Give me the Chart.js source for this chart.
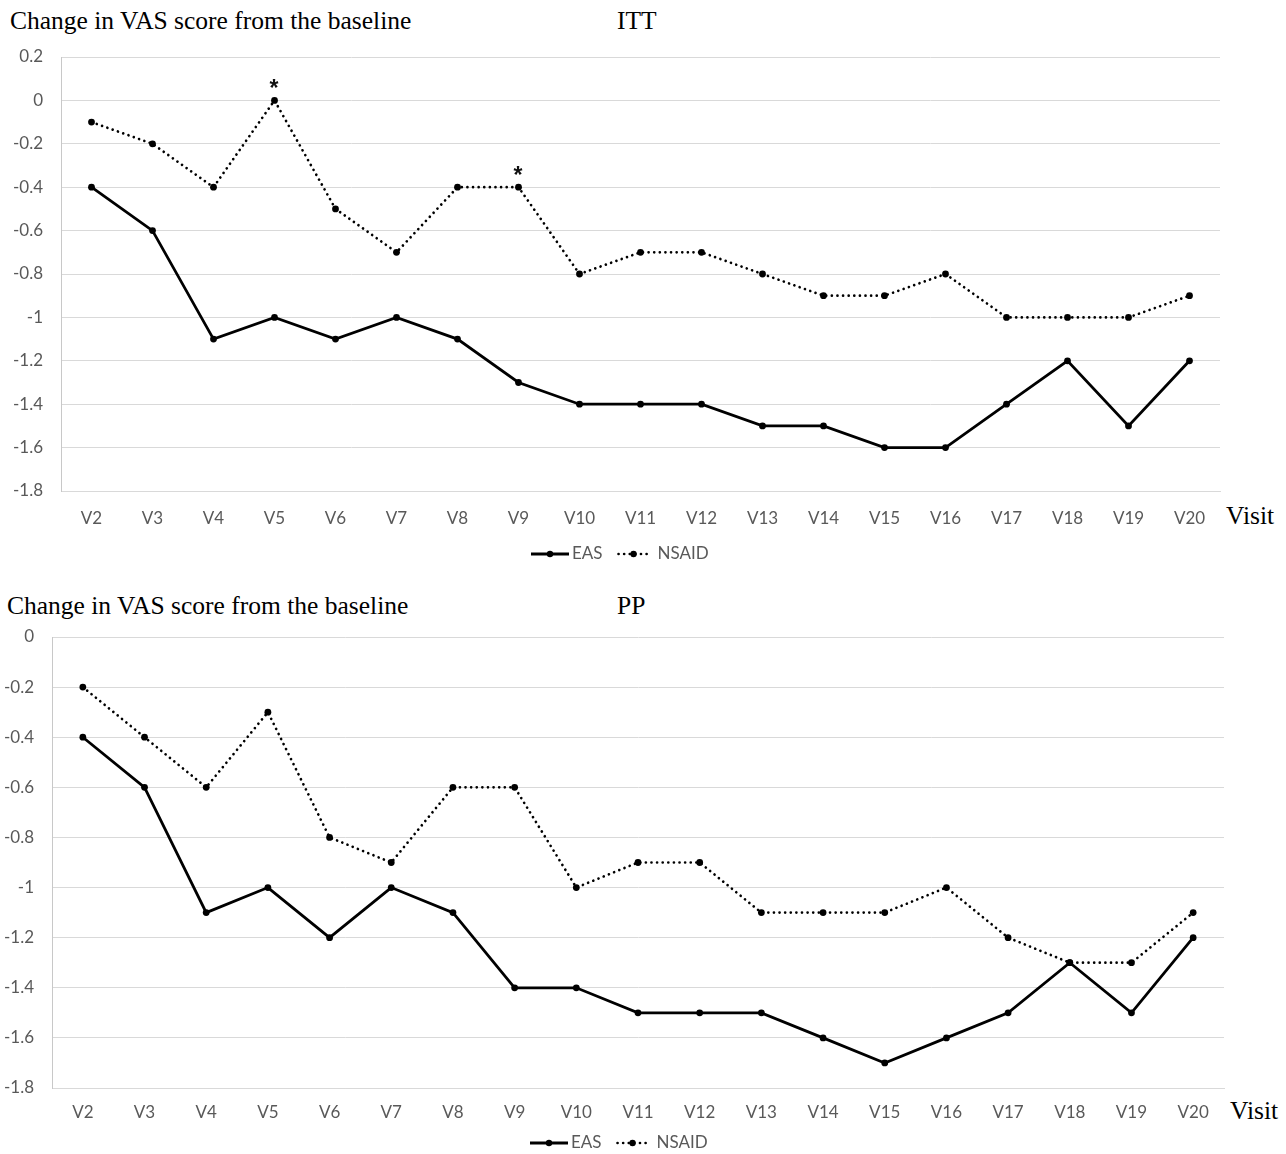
<!DOCTYPE html>
<html>
<head>
<meta charset="utf-8">
<script src="https://cdn.jsdelivr.net/npm/chart.js@4/dist/chart.umd.min.js"></script>
<style>
  body { margin: 0; background: #fff; width: 1286px; height: 1154px; position: relative; overflow: hidden; }
  .t { position: absolute; font-family: "Liberation Serif", "Times New Roman", serif; font-size: 25.5px; color: #000; white-space: nowrap; line-height: 1; }
  canvas { position: absolute; left: 0; }
</style>
</head>
<body>
<div class="t" style="left:10px;top:8px">Change in VAS score from the baseline</div>
<div class="t" style="left:617px;top:8px">ITT</div>
<div class="t" style="left:1226px;top:503px">Visit</div>
<div class="t" style="left:7px;top:593px">Change in VAS score from the baseline</div>
<div class="t" style="left:617px;top:593px">PP</div>
<div class="t" style="left:1230px;top:1098px">Visit</div>

<div style="position:absolute;left:0;top:0;width:1286px;height:575px"><canvas id="itt"></canvas></div>
<div style="position:absolute;left:0;top:590px;width:1286px;height:564px"><canvas id="pp"></canvas></div>

<script>
// Visits on the x axis
const visits = ['V2','V3','V4','V5','V6','V7','V8','V9','V10','V11','V12','V13','V14','V15','V16','V17','V18','V19','V20'];

// ITT population: mean change in VAS score
const ittEAS   = [-0.4, -0.6, -1.1, -1.0, -1.1, -1.0, -1.1, -1.3, -1.4, -1.4, -1.4, -1.5, -1.5, -1.6, -1.6, -1.4, -1.2, -1.5, -1.2];
const ittNSAID = [-0.1, -0.2, -0.4,  0.0, -0.5, -0.7, -0.4, -0.4, -0.8, -0.7, -0.7, -0.8, -0.9, -0.9, -0.8, -1.0, -1.0, -1.0, -0.9];
const ittStars = ['V5', 'V9'];   // visits flagged as significant

// PP population: mean change in VAS score
const ppEAS   = [-0.4, -0.6, -1.1, -1.0, -1.2, -1.0, -1.1, -1.4, -1.4, -1.5, -1.5, -1.5, -1.6, -1.7, -1.6, -1.5, -1.3, -1.5, -1.2];
const ppNSAID = [-0.2, -0.4, -0.6, -0.3, -0.8, -0.9, -0.6, -0.6, -1.0, -0.9, -0.9, -1.1, -1.1, -1.1, -1.0, -1.2, -1.3, -1.3, -1.1];
const ppStars = [];

const seriesNames = ['EAS', 'NSAID'];

const tickFont = { family: 'Lato, "Open Sans", sans-serif', size: 17 };
const tickColor = '#595959';
const gridColor = '#d9d9d9';
const dotted = [0.01, 5.6];

// Significance asterisks above the NSAID points
const starPlugin = {
  id: 'stars',
  afterDatasetsDraw(chart, args, opts) {
    const meta = chart.getDatasetMeta(1);
    const ctx = chart.ctx;
    ctx.save();
    ctx.font = 'bold 23px "Liberation Sans", sans-serif';
    ctx.fillStyle = '#111';
    ctx.textAlign = 'center';
    ctx.textBaseline = 'alphabetic';
    (opts.labels || []).forEach(v => {
      const i = chart.data.labels.indexOf(v);
      if (i < 0) return;
      const p = meta.data[i];
      ctx.fillText('*', p.x - 0.5, p.y - 4);
    });
    ctx.restore();
  }
};

// Legend with line + marker samples
const lineLegend = {
  id: 'lineLegend',
  afterDraw(chart, args, opts) {
    const ctx = chart.ctx;
    ctx.save();
    ctx.font = `${tickFont.size}px ${tickFont.family}`;
    ctx.textBaseline = 'middle';
    let x = opts.x;
    const y = opts.y;
    chart.data.datasets.forEach((ds, k) => {
      const len = k === 0 ? 38 : 34;
      ctx.strokeStyle = '#000';
      ctx.lineWidth = ds.borderWidth;
      ctx.setLineDash(ds.borderDash || []);
      ctx.lineCap = ds.borderDash ? 'round' : 'butt';
      ctx.beginPath();
      ctx.moveTo(x + (k === 0 ? 0 : 2), y);
      ctx.lineTo(x + len, y);
      ctx.stroke();
      ctx.setLineDash([]);
      ctx.fillStyle = '#000';
      ctx.beginPath();
      ctx.arc(x + len / 2, y, 3.2, 0, Math.PI * 2);
      ctx.fill();
      x += len + (k === 0 ? 3 : 7);
      ctx.fillStyle = tickColor;
      ctx.fillText(ds.label, x, y);
      x += ctx.measureText(ds.label).width + 14;
    });
    ctx.restore();
  }
};

function fmt(v) {
  const r = Math.round(v * 10) / 10;
  return (r === 0 ? 0 : r).toString();
}

function makeChart(id, eas, nsaid, yMax, stars, g) {
  return new Chart(document.getElementById(id), {
    type: 'line',
    data: {
      labels: visits,
      datasets: [
        { label: seriesNames[0], data: eas, borderColor: '#000', backgroundColor: '#000',
          borderWidth: 2.8, pointRadius: 3.4, pointBackgroundColor: '#000', pointBorderWidth: 0, tension: 0 },
        { label: seriesNames[1], data: nsaid, borderColor: '#000', backgroundColor: '#000',
          borderWidth: 2.7, borderDash: dotted, borderCapStyle: 'round',
          pointRadius: 3.4, pointBackgroundColor: '#000', pointBorderWidth: 0, tension: 0 }
      ]
    },
    options: {
      responsive: true,
      maintainAspectRatio: false,
      animation: false,
      layout: { padding: { top: g.top, right: g.right, left: 0, bottom: 0 } },
      plugins: {
        legend: { display: false },
        tooltip: { enabled: false },
        stars: { labels: stars },
        lineLegend: { x: g.legendX, y: g.legendY }
      },
      scales: {
        x: {
          offset: true,
          grid: { display: false, drawTicks: false },
          border: { display: true, color: gridColor, width: 1 },
          ticks: { font: tickFont, color: tickColor, padding: g.xPad, maxRotation: 0, autoSkip: false },
          afterFit(s) { s.height = g.xH; }
        },
        y: {
          min: -1.8, max: yMax,
          grid: { color: gridColor, drawTicks: false, lineWidth: 1 },
          border: { display: true, color: '#c8c8c8', width: 1 },
          ticks: { stepSize: 0.2, font: tickFont, color: tickColor, padding: 18, callback: v => fmt(v) },
          afterFit(s) { s.width = g.left; }
        }
      }
    },
    plugins: [starPlugin, lineLegend]
  });
}

makeChart('itt', ittEAS, ittNSAID, 0.2, ittStars,
  { top: 57, right: 66, left: 61, xH: 84, xPad: 17, legendX: 531, legendY: 554 });
makeChart('pp', ppEAS, ppNSAID, 0, ppStars,
  { top: 47, right: 62, left: 52, xH: 66, xPad: 14, legendX: 530, legendY: 553 });
</script>
</body>
</html>
